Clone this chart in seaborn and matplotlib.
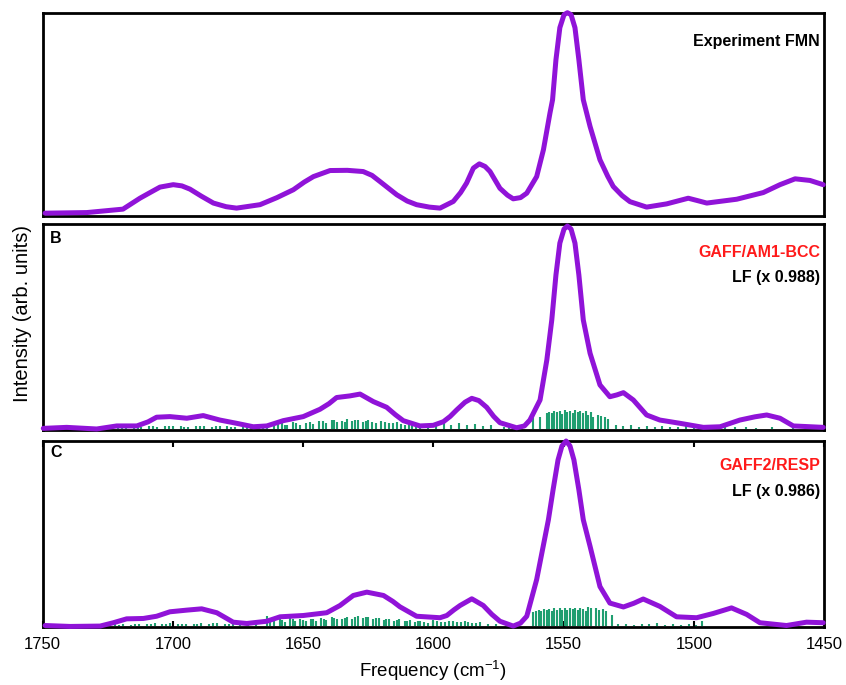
import numpy as np
import pandas as pd
import matplotlib
matplotlib.use("Agg")
import matplotlib.pyplot as plt
import seaborn as sns

sns.set_style("white", {"text.color": "black", "axes.labelcolor": "black",
                        "xtick.color": "black", "axes.edgecolor": "black"})
plt.rcParams['font.family'] = ['Liberation Sans', 'DejaVu Sans']
plt.rcParams['mathtext.default'] = 'regular'

PURPLE = "#9013d8"
GREEN = "#1f9e70"
RED = "#ff1a1a"

# ---- panel A: experiment FMN ----
exp_x = [1749.0, 1733.0, 1719.1, 1712.6, 1708.0, 1704.9, 1699.8, 1696.5, 1693.4, 1689.0,
         1684.4, 1679.5, 1675.5, 1666.5, 1660.0, 1653.7, 1649.5, 1646.0, 1639.6, 1633.0,
         1626.9, 1623.5, 1620.4, 1614.0, 1610.0, 1606.4, 1601.5, 1597.4, 1592.3, 1589.5,
         1587.2, 1584.6, 1582.3, 1580.1, 1578.2, 1574.4, 1571.5, 1569.3, 1566.5, 1564.1,
         1560.3, 1557.7, 1555.2, 1554.2, 1552.9, 1551.4, 1549.8, 1548.5, 1547.1, 1545.6,
         1544.1, 1542.4, 1539.8, 1536.0, 1533.0, 1530.9, 1527.5, 1524.5, 1518.1, 1510.4,
         1502.1, 1498.5, 1495.0, 1483.5, 1473.3, 1466.9, 1461.1, 1455.4, 1450.3]
exp_y = [0.008, 0.011, 0.028, 0.082, 0.115, 0.137, 0.149, 0.143, 0.127, 0.092,
         0.058, 0.040, 0.033, 0.050, 0.085, 0.124, 0.162, 0.189, 0.219, 0.220,
         0.214, 0.195, 0.164, 0.099, 0.068, 0.050, 0.038, 0.033, 0.066, 0.110,
         0.157, 0.231, 0.252, 0.239, 0.214, 0.131, 0.097, 0.079, 0.085, 0.107,
         0.189, 0.322, 0.503, 0.569, 0.767, 0.926, 0.990, 1.000, 0.990, 0.926,
         0.767, 0.569, 0.437, 0.272, 0.190, 0.140, 0.095, 0.065, 0.038, 0.054,
         0.082, 0.070, 0.058, 0.077, 0.110, 0.149, 0.178, 0.170, 0.149]

# ---- panel B: GAFF/AM1-BCC ----
gaff_x = [1749.7, 1740.7, 1729.2, 1721.5, 1713.8, 1709.5, 1706.2, 1701.1, 1694.6, 1688.3,
          1681.9, 1675.5, 1669.1, 1663.9, 1657.6, 1649.9, 1643.5, 1640.0, 1637.1, 1632.0,
          1628.1, 1623.0, 1617.9, 1614.5, 1611.5, 1605.1, 1600.0, 1596.1, 1593.5, 1591.0,
          1587.8, 1585.2, 1582.5, 1579.5, 1576.8, 1574.4, 1568.0, 1565.0, 1562.9, 1559.0,
          1556.4, 1554.5, 1552.9, 1551.4, 1549.8, 1548.5, 1547.1, 1545.6, 1544.1, 1542.4,
          1539.8, 1536.0, 1532.2, 1529.5, 1527.0, 1523.2, 1518.1, 1513.0, 1505.3, 1496.3,
          1489.9, 1482.3, 1476.5, 1472.0, 1466.9, 1461.8, 1450.3]
gaff_y = [0.003, 0.008, 0.000, 0.015, 0.015, 0.035, 0.058, 0.061, 0.053, 0.066,
          0.044, 0.028, 0.011, 0.015, 0.041, 0.061, 0.097, 0.125, 0.155, 0.163,
          0.172, 0.135, 0.107, 0.070, 0.041, 0.015, 0.018, 0.036, 0.062, 0.094,
          0.132, 0.151, 0.140, 0.107, 0.062, 0.031, 0.006, 0.015, 0.044, 0.143,
          0.340, 0.537, 0.759, 0.916, 0.985, 1.000, 0.985, 0.916, 0.759, 0.537,
          0.373, 0.217, 0.159, 0.168, 0.179, 0.143, 0.069, 0.044, 0.028, 0.008,
          0.011, 0.044, 0.060, 0.069, 0.053, 0.015, 0.008]

gaff_stick_x = [1721, 1718, 1715, 1712, 1709, 1706, 1703, 1700, 1697, 1694, 1691, 1688,
                1685, 1682, 1679, 1676, 1673, 1670, 1667, 1664, 1661, 1658, 1656, 1654,
                1651, 1649, 1646, 1644, 1641, 1639, 1637, 1635, 1633, 1631, 1629, 1627,
                1625, 1622, 1620, 1617, 1614, 1611, 1608, 1605, 1602, 1599, 1596, 1593,
                1590, 1587, 1584, 1581, 1578, 1573, 1571,
                1561.7, 1559, 1556.5, 1555.5, 1554.5, 1553.5, 1552.5, 1551.5, 1550.5,
                1549.5, 1548.5, 1547.5, 1546.5, 1545.5, 1544.5, 1543.5, 1542.5, 1541.5,
                1540.5, 1539.5, 1538.5, 1536.8, 1535.5, 1534, 1533,
                1530, 1527, 1524, 1521, 1518, 1515, 1512, 1509, 1506, 1503, 1500, 1497,
                1494, 1491, 1488, 1484, 1480, 1476, 1470, 1462,
                1659.5, 1657, 1652.5, 1647.5, 1642.5, 1638, 1634, 1630, 1626, 1623.5,
                1618.5, 1615.5, 1612.5, 1609.5, 1606.5,
                1719.5, 1713.5, 1707.5, 1701.5, 1695.5, 1689.5, 1683.5, 1677.5, 1671.5, 1665.5]
gaff_stick_h = [0.012, 0.010, 0.014, 0.012, 0.015, 0.011, 0.016, 0.013, 0.015, 0.012, 0.017, 0.014,
                0.012, 0.016, 0.013, 0.011, 0.014, 0.012, 0.015, 0.013, 0.020, 0.030, 0.018, 0.035,
                0.022, 0.030, 0.025, 0.038, 0.030, 0.045, 0.035, 0.040, 0.048, 0.038, 0.044, 0.036,
                0.042, 0.030, 0.038, 0.028, 0.034, 0.020, 0.032, 0.015, 0.020, 0.025, 0.030, 0.022,
                0.028, 0.018, 0.024, 0.015, 0.020, 0.012, 0.030,
                0.065, 0.060, 0.080, 0.085, 0.078, 0.090, 0.082, 0.088, 0.075,
                0.092, 0.086, 0.090, 0.080, 0.094, 0.084, 0.090, 0.078, 0.088,
                0.070, 0.085, 0.060, 0.070, 0.065, 0.060, 0.050,
                0.020, 0.015, 0.018, 0.012, 0.016, 0.010, 0.014, 0.012, 0.010, 0.013, 0.010, 0.012,
                0.008, 0.010, 0.008, 0.010, 0.008, 0.006, 0.008, 0.006,
                0.025, 0.020, 0.028, 0.032, 0.040, 0.042, 0.036, 0.046, 0.040, 0.035,
                0.033, 0.030, 0.025, 0.028, 0.020,
                0.010, 0.012, 0.013, 0.014, 0.012, 0.015, 0.013, 0.012, 0.011, 0.014]

# ---- panel C: GAFF2/RESP ----
resp_x = [1749.0, 1739.4, 1727.9, 1722.8, 1717.7, 1711.3, 1706.2, 1701.1, 1694.6, 1688.9,
          1683.1, 1679.5, 1676.8, 1671.6, 1663.9, 1658.8, 1649.9, 1640.9, 1635.8, 1630.7,
          1625.5, 1619.1, 1615.5, 1612.8, 1606.4, 1597.4, 1594.8, 1592.0, 1589.7, 1585.2,
          1580.8, 1577.5, 1574.4, 1569.3, 1566.5, 1564.1, 1560.3, 1557.8, 1555.8, 1554.0,
          1552.1, 1550.6, 1549.0, 1547.5, 1546.0, 1544.1, 1542.4, 1539.8, 1536.0, 1532.2,
          1527.0, 1523.0, 1519.4, 1513.0, 1506.6, 1498.9, 1492.5, 1485.5, 1479.7, 1474.6,
          1464.4, 1456.7, 1450.3]
resp_y = [0.005, 0.000, 0.002, 0.020, 0.041, 0.043, 0.055, 0.079, 0.088, 0.095,
          0.074, 0.045, 0.023, 0.016, 0.028, 0.052, 0.059, 0.074, 0.113, 0.167,
          0.185, 0.167, 0.135, 0.106, 0.055, 0.047, 0.059, 0.090, 0.113, 0.149,
          0.113, 0.065, 0.028, 0.002, 0.018, 0.055, 0.253, 0.432, 0.575, 0.737,
          0.898, 0.973, 1.000, 0.973, 0.898, 0.737, 0.575, 0.432, 0.215, 0.126,
          0.105, 0.125, 0.148, 0.108, 0.052, 0.047, 0.070, 0.100, 0.065, 0.020,
          0.005, 0.023, 0.020]

resp_stick_x = [1722, 1719, 1716, 1713, 1710, 1707, 1704, 1701, 1698, 1695, 1692, 1689,
                1686, 1683, 1680, 1677, 1674, 1671, 1668, 1664, 1661, 1659, 1657, 1655,
                1653, 1651, 1649, 1647, 1645, 1643, 1641, 1639, 1637, 1635, 1633, 1631,
                1629, 1627, 1625, 1623, 1621, 1619, 1617, 1615, 1613, 1611, 1609, 1607,
                1605, 1602, 1600, 1597, 1594, 1591, 1588, 1585, 1582, 1579, 1576,
                1561.7, 1560.5, 1559.5, 1558.5, 1557.5, 1556.5, 1555.5, 1554.5, 1553.5,
                1552.5, 1551.5, 1550.5, 1549.5, 1548.5, 1547.5, 1546.5, 1545.5, 1544.5,
                1543.5, 1542.5, 1541.5, 1540.5, 1539.5, 1537.5, 1536.5, 1535, 1533.5, 1531.5,
                1529, 1526, 1523, 1520, 1517, 1514, 1511, 1508, 1505, 1502, 1499, 1497,
                1662.5, 1658, 1654, 1650, 1646, 1642, 1638, 1634, 1630, 1626, 1622,
                1618, 1614, 1610, 1606, 1603.5, 1598.5, 1595.5, 1592.5, 1589.5, 1586.5, 1583.5,
                1720.5, 1714.5, 1708.5, 1702.5, 1696.5, 1690.5, 1684.5, 1678.5]
resp_stick_h = [0.012, 0.015, 0.010, 0.014, 0.012, 0.016, 0.013, 0.018, 0.012, 0.015, 0.013, 0.016,
                0.012, 0.020, 0.014, 0.012, 0.010, 0.013, 0.011, 0.055, 0.030, 0.040, 0.025, 0.045,
                0.030, 0.038, 0.028, 0.040, 0.032, 0.045, 0.035, 0.050, 0.038, 0.042, 0.050, 0.040,
                0.055, 0.045, 0.050, 0.040, 0.048, 0.035, 0.042, 0.030, 0.038, 0.028, 0.035, 0.025,
                0.030, 0.020, 0.035, 0.025, 0.030, 0.022, 0.028, 0.020, 0.025, 0.015, 0.012,
                0.080, 0.085, 0.090, 0.082, 0.092, 0.088, 0.095, 0.085, 0.097,
                0.090, 0.100, 0.088, 0.098, 0.090, 0.100, 0.092, 0.102, 0.090,
                0.100, 0.095, 0.085, 0.105, 0.100, 0.098, 0.090, 0.095, 0.085, 0.060,
                0.012, 0.015, 0.010, 0.014, 0.012, 0.016, 0.010, 0.012, 0.010, 0.013, 0.008, 0.030,
                0.035, 0.035, 0.040, 0.035, 0.042, 0.040, 0.045, 0.048, 0.050, 0.052, 0.045,
                0.040, 0.035, 0.030, 0.028, 0.025, 0.030, 0.025, 0.028, 0.024, 0.022, 0.020,
                0.010, 0.012, 0.014, 0.013, 0.014, 0.012, 0.016, 0.013]

xticks = [1750, 1700, 1650, 1600, 1550, 1500, 1450]

fig = plt.figure(figsize=(8.46, 6.85), dpi=100)
left, width = 42.5 / 846, (824 - 42.5) / 846
axA = fig.add_axes([left, 1 - 216 / 685, width, 203.3 / 685])
axB = fig.add_axes([left, 1 - 430 / 685, width, 206 / 685])
axC = fig.add_axes([left, 1 - 627 / 685, width, 186 / 685])

panels = [
    (axA, exp_x, exp_y, None, None, (-0.006, 1.0)),
    (axB, gaff_x, gaff_y, gaff_stick_x, gaff_stick_h, (-0.005, 1.01)),
    (axC, resp_x, resp_y, resp_stick_x, resp_stick_h, (-0.003, 1.0)),
]

for ax, cx, cy, sx, sh, ylim in panels:
    if sx is not None:
        ax.vlines(sx, 0, sh, color=GREEN, linewidth=1.5, zorder=1)
    df = pd.DataFrame({"freq": cx, "inten": cy})
    sns.lineplot(data=df, x="freq", y="inten", ax=ax, color=PURPLE,
                 linewidth=3.6, sort=False, estimator=None, zorder=3)
    for ln in ax.lines:
        ln.set_clip_on(False)
        ln.set_solid_capstyle("round")
        ln.set_solid_joinstyle("round")
    ax.set_xlim(1750, 1450)
    ax.set_ylim(*ylim)
    ax.set_xlabel("")
    ax.set_ylabel("")
    ax.set_yticks([])
    for sp in ax.spines.values():
        sp.set_linewidth(2.0)
        sp.set_color("black")
        sp.set_zorder(2.5)
    ax.set_xticks(xticks)
    ax.tick_params(axis="x", bottom=False, labelbottom=False)

axC.tick_params(axis="x", direction="in", top=True, bottom=True, length=4, width=1.5,
                labelbottom=True, labelsize=12, pad=7, colors="black")

txt = dict(fontsize=11.5, fontweight="bold", va="center")
axA.text(0.995, 0.856, "Experiment FMN", transform=axA.transAxes, ha="right",
         color="black", **txt)
axB.text(0.01, 0.932, "B", transform=axB.transAxes, ha="left", color="black", **txt)
axB.text(0.995, 0.864, "GAFF/AM1-BCC", transform=axB.transAxes, ha="right",
         color=RED, **txt)
axB.text(0.995, 0.738, "LF (x 0.988)", transform=axB.transAxes, ha="right",
         color="black", **txt)
axC.text(0.01, 0.94, "C", transform=axC.transAxes, ha="left", color="black", **txt)
axC.text(0.995, 0.866, "GAFF2/RESP", transform=axC.transAxes, ha="right",
         color=RED, **txt)
axC.text(0.995, 0.726, "LF (x 0.986)", transform=axC.transAxes, ha="right",
         color="black", **txt)

fig.text(0.027, 1 - 313 / 685, "Intensity (arb. units)", rotation=90,
         ha="center", va="center", fontsize=14.5, color="black")
fig.text((42.5 + 824) / 2 / 846, 1 - 671 / 685, "Frequency (cm$^{-1}$)",
         ha="center", va="center", fontsize=13.5, color="black")

fig.savefig("out.png", dpi=100)
